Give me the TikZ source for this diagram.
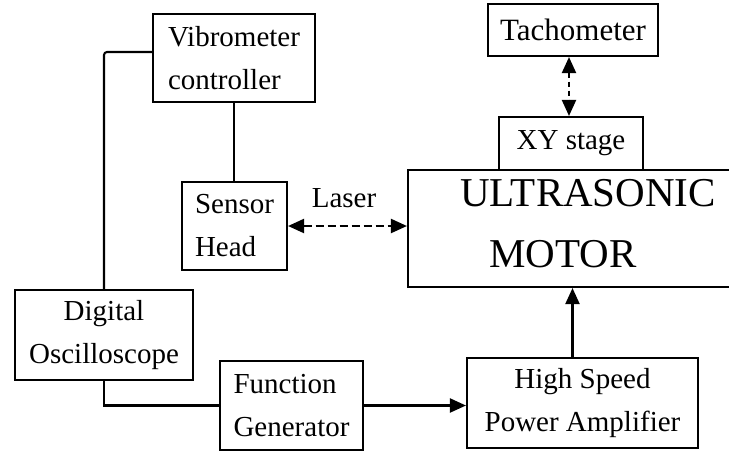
\documentclass[tikz,border=0pt]{standalone}
\usepackage{fontspec}
\setmainfont{Liberation Serif}
\usetikzlibrary{arrows.meta}
\begin{document}
\begin{tikzpicture}[x=1pt,y=-1pt,
  box/.style={draw, line width=2.1pt, inner sep=0pt, font=\fontsize{29}{43}\selectfont},
  conn/.style={line width=2.1pt},
  tipped/.style={-{Triangle[length=16pt,width=14pt]}},
  bothtipped/.style={{Triangle[length=16pt,width=14pt]}-{Triangle[length=16pt,width=14pt]}},
  lbl/.style={anchor=base, inner sep=0pt}]
\clip (0,0) rectangle (729,451);
\fill[white] (0,0) rectangle (729,451);
% boxes
\node[box, minimum width=162pt, minimum height=88pt, align=left] (vib) at (234,58) {Vibrometer\\controller};
\node[box, minimum width=105pt, minimum height=88pt, align=left] (sensor) at (234.5,226) {Sensor\\Head};
\node[box, minimum width=170pt, minimum height=52pt, font=\fontsize{31}{31}\selectfont] (tach) at (573,30) {Tachometer};
\node[box, minimum width=144pt, minimum height=53pt] (xy) at (571,143.5) {XY stage};
\node[box, minimum width=332pt, minimum height=117pt] (motor) at (574,228.5) {};
\node[box, minimum width=178pt, minimum height=90pt, align=center] (osc) at (104,335) {Digital\\Oscilloscope};
\node[box, minimum width=143pt, minimum height=89pt, align=left] (fg) at (291.5,405.5) {Function\\Generator};
\node[box, minimum width=231pt, minimum height=90pt, align=center] (hspa) at (582.5,403) {High Speed\\Power Amplifier};
% texts
\node[lbl, font=\fontsize{41}{41}\selectfont] (ultra) at (588,206) {ULTRASONIC};
\node[lbl, font=\fontsize{41}{41}\selectfont] (motortxt) at (563,267) {MOTOR};
\node[lbl, font=\fontsize{29}{29}\selectfont] (laser) at (344,207) {Laser};
% connectors
\draw[conn, rounded corners=3pt] ([yshift=6pt]vib.west) -| (osc.north);
\draw[conn] (vib.south) -- (vib.south |- sensor.north);
\draw[conn] (osc.south) |- (fg.west);
\draw[conn, tipped] (fg.east) -- (fg.east -| hspa.west);
\draw[conn, tipped] ([xshift=-10pt]hspa.north) -- ([xshift=-10pt]hspa.north |- motor.south);
\draw[conn, bothtipped, dash pattern=on 8pt off 4pt] (sensor.east) -- (sensor.east -| motor.west);
\draw[conn, bothtipped, dash pattern=on 5pt off 4pt] ([xshift=-4pt]tach.south) -- ([xshift=-4pt]tach.south |- xy.north);
\end{tikzpicture}
\end{document}
